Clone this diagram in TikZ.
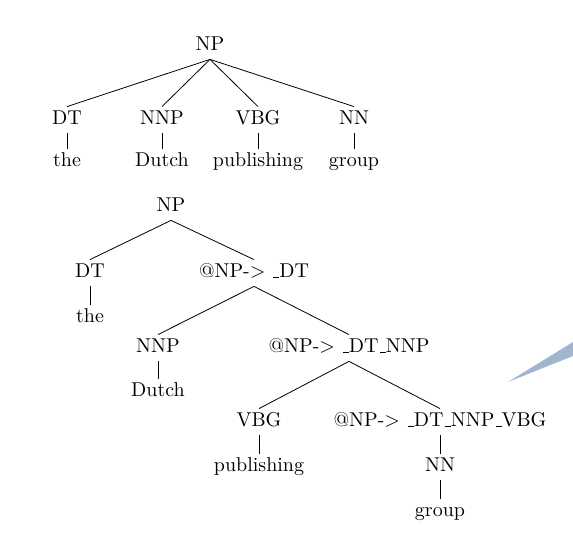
\documentclass[tikz,border=0pt]{standalone}
\usepackage{fontspec}
\definecolor{wedge}{RGB}{160,182,206}
\newcommand\usc{\leavevmode\kern.06em\vbox{\hrule width.3em}}
\newcommand\arr{-{}$>$\ }
\begin{document}
\begin{tikzpicture}[x=0.5pt,y=-0.5pt,
  lbl/.style={inner sep=2pt,text height=7pt,text depth=2pt,anchor=base},
  br/.style={line width=0.4pt}]
\useasboundingbox (0,0) rectangle (573,533);
% top tree
\node[lbl] (t0) at (210,51) {NP};
\node[lbl] (t1) at (67,125) {DT};
\node[lbl] (t2) at (162,125) {NNP};
\node[lbl] (t3) at (258,125) {VBG};
\node[lbl] (t4) at (354,125) {NN};
\node[lbl] (w1) at (67,167) {the};
\node[lbl] (w2) at (162,167) {Dutch};
\node[lbl] (w3) at (258,167) {publishing};
\node[lbl] (w4) at (354,167) {group};
\foreach \c in {t1,t2,t3,t4} \draw[br] (t0.south) -- (\c.north);
\draw[br] (t1.south) -- (w1.north);
\draw[br] (t2.south) -- (w2.north);
\draw[br] (t3.south) -- (w3.north);
\draw[br] (t4.south) -- (w4.north);
% bottom tree
\node[lbl] (b0) at (171,212) {NP};
\node[lbl] (b1) at (90,278) {DT};
\node[lbl] (b2) at (254,278) {@NP\arr\usc DT};
\node[lbl] (v1) at (90,323) {the};
\node[lbl] (b3) at (158,353) {NNP};
\node[lbl] (b4) at (349,353) {@NP\arr\usc DT\usc NNP};
\node[lbl] (v2) at (158,397) {Dutch};
\node[lbl] (b5) at (259,427) {VBG};
\node[lbl] (b6) at (440,427) {@NP\arr\usc DT\usc NNP\usc VBG};
\node[lbl] (v3) at (259,472) {publishing};
\node[lbl] (b7) at (440,472) {NN};
\node[lbl] (v4) at (440,517) {group};
\draw[br] (b0.south) -- (b1.north);
\draw[br] (b0.south) -- (b2.north);
\draw[br] (b1.south) -- (v1.north);
\draw[br] (b2.south) -- (b3.north);
\draw[br] (b2.south) -- (b4.north);
\draw[br] (b3.south) -- (v2.north);
\draw[br] (b4.south) -- (b5.north);
\draw[br] (b4.south) -- (b6.north);
\draw[br] (b5.south) -- (v3.north);
\draw[br] (b6.south) -- (b7.north);
\draw[br] (b7.south) -- (v4.north);
% wedge
\fill[wedge] (508,382) -- (573,342) -- (573,356) -- cycle;
\end{tikzpicture}
\end{document}
